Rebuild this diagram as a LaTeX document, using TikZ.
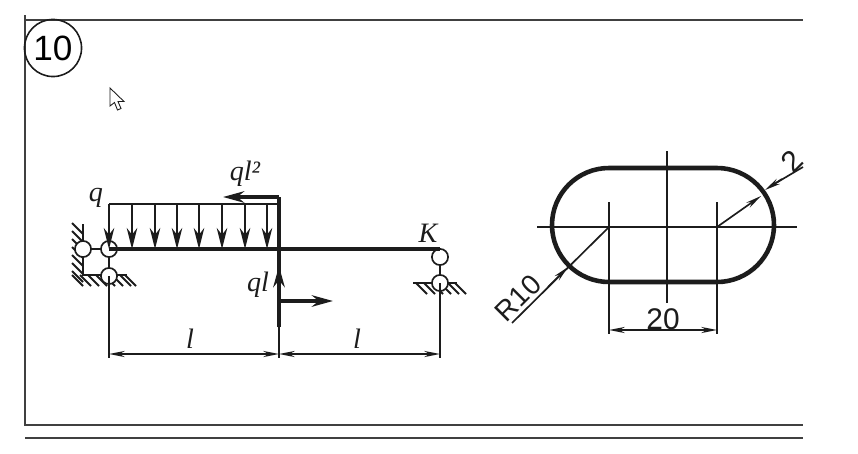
\documentclass[tikz,border=0pt]{standalone}
\usepackage{fontspec}
\setmainfont{Liberation Serif}
\newfontfamily\drawfont{Liberation Sans}
\usetikzlibrary{arrows.meta,calc}
\definecolor{inkc}{HTML}{1c1c1c}
\tikzset{
    thinl/.style={line width=0.95pt,draw=inkc},
    thickl/.style={line width=2.2pt,draw=inkc},
    hatchl/.style={line width=1.1pt,draw=inkc},
    slotl/.style={line width=2.6pt,draw=inkc},
    framel/.style={line width=1pt,draw=black!75},
    load/.style={thinl,-{Stealth[length=12pt,width=6pt]}},
    force/.style={thickl,-{Stealth[length=12pt,width=6.5pt]}},
    dimen/.style={thinl,{Stealth[length=9pt,width=3.5pt]}-{Stealth[length=9pt,width=3.5pt]}},
    leader/.style={thinl,-{Stealth[length=9pt,width=3.5pt]}},
    hinge/.style={circle,draw=inkc,line width=0.95pt,fill=white,minimum size=9.2pt,inner sep=0pt},
    ital/.style={font=\fontsize{16}{16}\selectfont\itshape,text=inkc,inner sep=0pt},
    dimtext/.style={font=\drawfont\fontsize{17}{17}\selectfont,text=inkc,inner sep=0pt}
}
\begin{document}
\begin{tikzpicture}[x=0.02cm,y=-0.02cm]
    \useasboundingbox (0,0) rectangle (858,453);

    % Frame
    \draw[framel] (25,15) -- (25,426);
    \draw[framel] (25,20) -- (803,20);
    \draw[framel] (25,425) -- (803,425);
    \draw[framel] (25,438) -- (803,438);
    \node[circle,draw=inkc,line width=0.9pt,minimum size=32.5pt,inner sep=0pt,
        font=\drawfont\fontsize{20}{20}\selectfont] (num) at (53,48) {10};

    % Pointer
    \draw[line width=0.5pt,draw=inkc,fill=white] (110,88) -- (110,106) -- (114.5,102.5) -- (117.5,110)
        -- (121,108.5) -- (118,101.5) -- (124,101.5) -- cycle;

    % Left wall and ground
    \draw[hatchl] (83,224) -- (83,275) -- (127,275);
    \foreach \y in {223,231,239,247,255,263,271}
        \draw[hatchl] (72,\y) -- (83,\y+11);
    \foreach \x in {72,80,88,96,104,112,120,125}
        \draw[hatchl] (\x,275) -- ++(11,11);

    % Right ground
    \draw[hatchl] (413,283) -- (457,283);
    \foreach \x in {416,424,432,440,448,455}
        \draw[hatchl] (\x,283) -- ++(11,11);

    % Hinges
    \node[hinge] (wallA) at (83,249) {};
    \node[hinge] (beamA) at (109,249) {};
    \node[hinge] (floorA) at (109,276) {};
    \node[hinge] (beamK) at (440,257) {};
    \node[hinge] (floorK) at (440,283) {};
    \draw[thinl] (wallA) -- (beamA);
    \draw[thinl] (beamA) -- (floorA);
    \draw[thinl] (beamK) -- (floorK);

    % Beam
    \coordinate (mid) at (279,249);
    \coordinate (endK) at (440,249);
    \draw[thickl] (beamA.center) -- (endK);

    % Distributed load
    \draw[thinl] (109,204) -- (279,204);
    \foreach \x in {109,132,155,177,199,222,245,267}
        \draw[load] (\x,204) -- (\x,249);

    % Moment
    \coordinate (momtop) at (279,197);
    \coordinate (momtip) at (223,197);
    \draw[thickl] (mid) -- (momtop);
    \draw[force] (momtop) -- (momtip);

    % Forces
    \coordinate (fbot) at (279,327);
    \coordinate (fmid) at (279,301);
    \coordinate (ftip) at (333,301);
    \draw[thickl] (fbot) -- (mid);
    \draw[force] (fbot) -- (279,266);
    \draw[force] (fmid) -- (ftip);

    % Dimensions
    \coordinate (dimA) at (109,354);
    \coordinate (dimB) at (279,354);
    \coordinate (dimC) at (440,354);
    \draw[thinl] (floorA.center) -- (109,358);
    \draw[thinl] (mid) -- (279,358);
    \draw[thinl] (floorK.center) -- (440,358);
    \draw[dimen] (dimA) -- (dimB);
    \draw[dimen] (dimB) -- (dimC);

    % Labels
    \node[ital] (lq) at (96,198) {q};
    \node[ital] (lmom) at (245,174) {ql²};
    \node[ital] (lf) at (258,285) {ql};
    \node[ital] (ll1) at (190,339) {l};
    \node[ital] (ll2) at (357,339) {l};
    \node[ital] (lk) at (428,233) {K};

    % Slot
    \draw[slotl] (609,168) -- (717,168) arc[start angle=90,end angle=-90,x radius=57,y radius=-57]
        -- (609,282) arc[start angle=-90,end angle=-270,x radius=57,y radius=-57] -- cycle;

    % Centre lines
    \coordinate (ctrL) at (609,227);
    \coordinate (ctrR) at (717,227);
    \draw[thinl] (537,227) -- (797,227);
    \draw[thinl] (667,151) -- (667,303);
    \draw[thinl] (609,202) -- (609,334);
    \draw[thinl] (717,202) -- (717,334);

    % Slot dimensions
    \draw[dimen] (609,330) -- (717,330);
    \node[dimtext] (l20) at (663,319) {20};
    \draw[thinl] (ctrL) -- (512,323);
    \draw[leader] (548,287) -- (568,267);
    \node[dimtext,rotate=45,font=\drawfont\fontsize{16}{16}\selectfont] (lr) at (518,298) {R10};
    \draw[leader] (ctrR) -- (761,196);
    \draw[thinl] (803,167) -- (776,183);
    \draw[leader] (782,179) -- (765,190);
    \node[dimtext,rotate=45] (lt) at (792,161) {2};
\end{tikzpicture}
\end{document}
